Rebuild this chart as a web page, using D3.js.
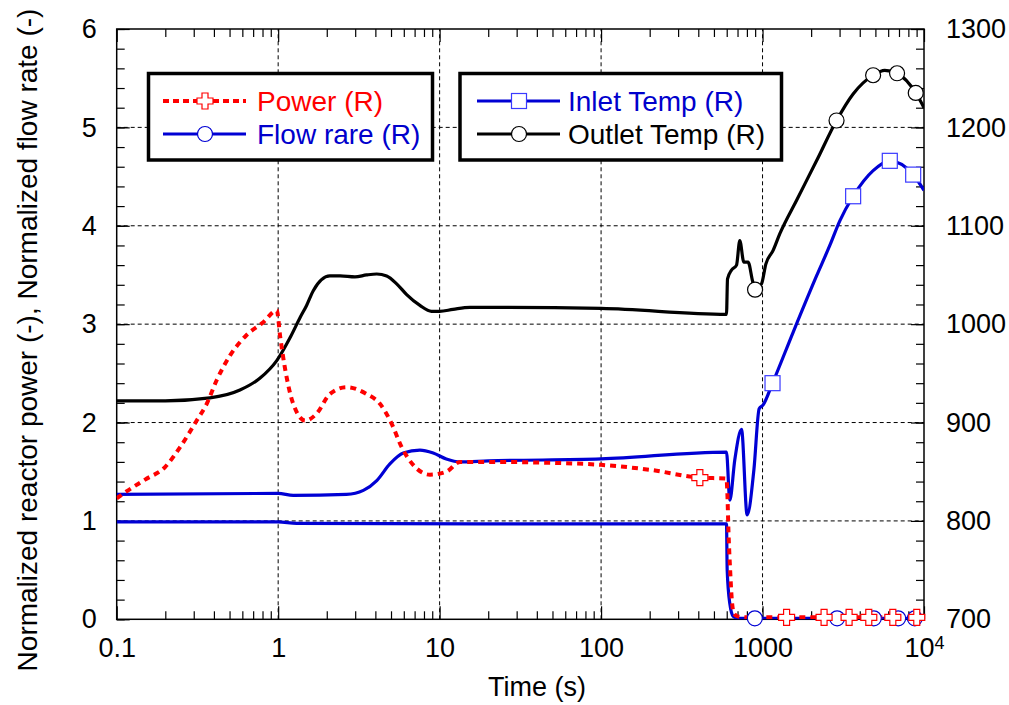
<!DOCTYPE html>
<html>
<head>
<meta charset="utf-8">
<script src="https://cdn.jsdelivr.net/npm/d3@7"></script>
<style>
  body { margin: 0; background: #fff; }
  svg { display: block; font-family: "Liberation Sans", Arial, Helvetica, sans-serif; }
</style>
</head>
<body>
<div id="chart"></div>
<script>
// time axis ticks
const timeTicks = [0.1, 1, 10, 100, 1000, 10000];
const timeTickLabels = ['0.1', '1', '10', '100', '1000', '10'];
const leftTicks = [0, 1, 2, 3, 4, 5, 6];
const rightTicks = [700, 800, 900, 1000, 1100, 1200, 1300];

// Power (left axis)
const powerTime = [0.1, 0.115, 0.15, 0.2, 0.247, 0.313, 0.361, 0.416, 0.503, 0.638, 0.809, 0.98,
  1.03, 1.1, 1.24, 1.47, 1.73, 2.09, 2.65, 3.53, 4.27, 5.04, 5.82, 7.03, 8.71, 11, 13.4, 20, 50,
  100, 200, 409, 598, 605, 615, 630, 645, 665, 700, 800, 10000];
const powerValue = [1.23, 1.30, 1.42, 1.55, 1.75, 2.02, 2.19, 2.43, 2.68, 2.89, 3.02, 3.14,
  2.87, 2.56, 2.19, 2.02, 2.09, 2.29, 2.36, 2.29, 2.19, 1.99, 1.75, 1.55, 1.47, 1.50, 1.60, 1.60, 1.59,
  1.57, 1.52, 1.44, 1.43, 1.30, 0.90, 0.50, 0.20, 0.06, 0.03, 0.02, 0.02];
const powerMarkTime = [409, 1409, 2405, 3436, 4550, 6410, 9020];
const powerMarkValue = [1.44, 0.02, 0.02, 0.02, 0.02, 0.02, 0.02];

// Flow rate (left axis)
const flowTime = [0.1, 1.0, 1.3, 100, 598, 604, 627, 658, 700, 800, 10000];
const flowValue = [0.99, 0.99, 0.975, 0.97, 0.97, 0.5, 0.16, 0.03, 0.01, 0.01, 0.01];
const flowMarkTime = [896, 2897, 4888, 6920, 8770];
const flowMarkValue = [0.01, 0.01, 0.01, 0.01, 0.01];

// Inlet temperature (right axis)
const inletTime = [0.1, 1.0, 1.24, 2.65, 3.37, 4.08, 4.92, 5.96, 7.55, 9.13, 11, 13.4, 20, 100,
  598, 627, 673, 741, 803, 884, 953, 1009, 1153, 1549, 2160, 2610, 3010, 3640, 4840, 6140, 8570, 10000];
const inletValue = [827, 828, 826, 827, 831, 841, 858, 869, 872, 869, 863, 860, 861, 863,
  870, 821, 862, 893, 806, 852, 914, 918, 940, 992, 1049, 1080, 1105, 1130, 1156, 1166, 1152, 1136];
const inletMarkTime = [1153, 3640, 6140, 8570];
const inletMarkValue = [940, 1130, 1166, 1152];

// Outlet temperature (right axis)
const outletTime = [0.1, 0.2, 0.378, 0.58, 0.77, 0.98, 1.2, 1.37, 1.5, 1.65, 2.09, 2.42, 2.99, 3.53,
  4.08, 4.7, 5.42, 6.25, 7.55, 8.91, 10, 12.1, 15.4, 23.6, 100, 598, 607, 643, 690, 723, 766, 814,
  867, 899, 986, 1048, 1163, 1280, 1626, 2160, 2873, 3640, 4840, 5710, 6810, 8890, 10000];
const outletValue = [922, 922, 925, 933, 945, 963, 988, 1007, 1019, 1034, 1049, 1049, 1048, 1050,
  1051, 1049, 1041, 1030, 1019, 1013, 1013, 1015, 1017, 1017, 1016, 1010, 1046, 1055, 1060, 1085, 1063, 1063,
  1044, 1035, 1041, 1061, 1075, 1092, 1126, 1166, 1207, 1234, 1253, 1258, 1255, 1235, 1220];
const outletMarkTime = [899, 2873, 4840, 6810, 8890];
const outletMarkValue = [1035, 1207, 1253, 1255, 1235];

const RED = '#ff0000';
const BLUE = '#0000d4';
const BLACK = '#000000';

const width = 1009, height = 705;
const margin = { top: 29, right: 85, bottom: 85.7, left: 116.7 };
const x0 = margin.left, x1 = width - margin.right;
const y0 = height - margin.bottom, y1 = margin.top;

const svg = d3.select('#chart').append('svg')
  .attr('width', width)
  .attr('height', height);

const x = d3.scaleLog().domain([0.1, 10000]).range([x0, x1]);
const yL = d3.scaleLinear().domain([0, 6]).range([y0, y1]);
const yR = d3.scaleLinear().domain([700, 1300]).range([y0, y1]);

const minorTime = [];
[0.1, 1, 10, 100, 1000].forEach(d => { for (let k = 2; k <= 9; k++) minorTime.push(d * k); });
const minorLeft = d3.range(0, 6.001, 0.2);
const minorRight = d3.range(700, 1300.1, 20);

// grid
const grid = svg.append('g')
  .attr('stroke', '#000')
  .attr('stroke-width', 1)
  .attr('stroke-dasharray', '4,3');
grid.selectAll('.gx').data(timeTicks.slice(1, -1)).enter().append('line')
  .attr('x1', d => x(d)).attr('x2', d => x(d))
  .attr('y1', y0).attr('y2', y1);
grid.selectAll('.gy').data(leftTicks.slice(1, -1)).enter().append('line')
  .attr('x1', x0).attr('x2', x1)
  .attr('y1', d => yL(d)).attr('y2', d => yL(d));

// axes (ticks point inwards)
function styleAxis(g) {
  g.select('.domain').remove();
  g.selectAll('line').attr('stroke', '#000').attr('stroke-width', 1.2);
  g.selectAll('text').attr('fill', '#000').style('font-size', '27px')
    .style('font-family', '"Liberation Sans", Arial, sans-serif');
}

svg.append('g').attr('transform', 'translate(0,' + y0 + ')')
  .call(d3.axisBottom(x).tickValues(minorTime).tickSize(-8).tickFormat(''))
  .call(styleAxis);
const bottomAxis = svg.append('g').attr('transform', 'translate(0,' + y0 + ')')
  .call(d3.axisBottom(x).tickValues(timeTicks).tickSize(-13).tickPadding(19)
    .tickFormat((d, i) => timeTickLabels[i]))
  .call(styleAxis);
// 10^4 superscript
bottomAxis.selectAll('.tick text').filter(d => d === 10000)
  .append('tspan').attr('dy', '-0.45em').style('font-size', '18px').text('4');

svg.append('g').attr('transform', 'translate(0,' + y1 + ')')
  .call(d3.axisTop(x).tickValues(minorTime).tickSize(-8).tickFormat(''))
  .call(styleAxis);
svg.append('g').attr('transform', 'translate(0,' + y1 + ')')
  .call(d3.axisTop(x).tickValues(timeTicks).tickSize(-13).tickFormat(''))
  .call(styleAxis);

svg.append('g').attr('transform', 'translate(' + x0 + ',0)')
  .call(d3.axisLeft(yL).tickValues(minorLeft).tickSize(-8).tickFormat(''))
  .call(styleAxis);
svg.append('g').attr('transform', 'translate(' + x0 + ',0)')
  .call(d3.axisLeft(yL).tickValues(leftTicks).tickSize(-13).tickPadding(20).tickFormat(d3.format('d')))
  .call(styleAxis);

svg.append('g').attr('transform', 'translate(' + x1 + ',0)')
  .call(d3.axisRight(yR).tickValues(minorRight).tickSize(-8).tickFormat(''))
  .call(styleAxis);
svg.append('g').attr('transform', 'translate(' + x1 + ',0)')
  .call(d3.axisRight(yR).tickValues(rightTicks).tickSize(-13).tickPadding(22).tickFormat(d3.format('d')))
  .call(styleAxis);

// frame
svg.append('rect')
  .attr('x', x0).attr('y', y1)
  .attr('width', x1 - x0).attr('height', y0 - y1)
  .attr('fill', 'none').attr('stroke', '#000').attr('stroke-width', 1.5);

// axis titles
svg.append('text')
  .attr('x', 537).attr('y', 696)
  .attr('text-anchor', 'middle')
  .style('font-size', '27px')
  .text('Time (s)');
svg.append('text')
  .attr('transform', 'translate(37,340) rotate(-90)')
  .attr('text-anchor', 'middle')
  .style('font-size', '28px')
  .text('Normalized reactor power (-), Normalized flow rate (-)');

// series
svg.append('clipPath').attr('id', 'plotclip')
  .append('rect').attr('x', x0).attr('y', y1).attr('width', x1 - x0).attr('height', y0 - y1);
const plot = svg.append('g').attr('clip-path', 'url(#plotclip)');

function drawLine(times, values, yScale, color, dash) {
  const line = d3.line().x(d => x(d[0])).y(d => yScale(d[1])).curve(d3.curveMonotoneX);
  plot.append('path')
    .datum(d3.zip(times, values))
    .attr('d', line)
    .attr('fill', 'none')
    .attr('stroke', color)
    .attr('stroke-width', dash ? 4 : 3.2)
    .attr('stroke-dasharray', dash || null)
    .attr('stroke-linejoin', 'round');
}

function crossPath(s, a) {
  return 'M' + (-a) + ',' + (-s) + 'H' + a + 'V' + (-a) + 'H' + s + 'V' + a + 'H' + a + 'V' + s +
    'H' + (-a) + 'V' + a + 'H' + (-s) + 'V' + (-a) + 'H' + (-a) + 'Z';
}

function drawMarker(g, type, cx, cy, color) {
  if (type === 'circle') {
    g.append('circle').attr('cx', cx).attr('cy', cy).attr('r', 7.5)
      .attr('fill', '#fff').attr('stroke', color).attr('stroke-width', 1.2);
  } else if (type === 'square') {
    g.append('rect').attr('x', cx - 7.5).attr('y', cy - 7.5).attr('width', 15).attr('height', 15)
      .attr('fill', '#fff').attr('stroke', color).attr('stroke-width', 1.2);
  } else {
    g.append('path').attr('d', crossPath(8, 3)).attr('transform', 'translate(' + cx + ',' + cy + ')')
      .attr('fill', '#fff').attr('stroke', color).attr('stroke-width', 1.2);
  }
}

function drawMarkers(times, values, yScale, type, color) {
  const g = svg.append('g');
  d3.zip(times, values).forEach(d => drawMarker(g, type, x(d[0]), yScale(d[1]), color));
}

drawLine(outletTime, outletValue, yR, BLACK);
drawLine(inletTime, inletValue, yR, BLUE);
drawLine(flowTime, flowValue, yL, BLUE);
drawLine(powerTime, powerValue, yL, RED, '6,5');

drawMarkers(outletMarkTime, outletMarkValue, yR, 'circle', BLACK);
drawMarkers(inletMarkTime, inletMarkValue, yR, 'square', '#3a3aff');
drawMarkers(flowMarkTime, flowMarkValue, yL, 'circle', BLUE);
drawMarkers(powerMarkTime, powerMarkValue, yL, 'cross', RED);

// legends
const legendRows = [
  { box: 0, row: 0, name: 'Power (R)', color: RED, marker: 'cross', dash: '6,4', mcolor: RED },
  { box: 0, row: 1, name: 'Flow rare (R)', color: BLUE, marker: 'circle', dash: null, mcolor: BLUE },
  { box: 1, row: 0, name: 'Inlet Temp (R)', color: BLUE, marker: 'square', dash: null, mcolor: '#3a3aff' },
  { box: 1, row: 1, name: 'Outlet Temp (R)', color: BLACK, marker: 'circle', dash: null, mcolor: BLACK }
];
const boxes = [
  { x: 148.5, w: 284, lineX: 163, textX: 257 },
  { x: 460, w: 321.5, lineX: 477, textX: 568 }
];
boxes.forEach(b => {
  svg.append('rect')
    .attr('x', b.x).attr('y', 73.5)
    .attr('width', b.w).attr('height', 86.5)
    .attr('fill', '#fff').attr('stroke', '#000').attr('stroke-width', 3.5);
});
legendRows.forEach(r => {
  const b = boxes[r.box];
  const ly = 101 + r.row * 33;
  const g = svg.append('g');
  g.append('line')
    .attr('x1', b.lineX).attr('x2', b.lineX + 83)
    .attr('y1', ly).attr('y2', ly)
    .attr('stroke', r.color)
    .attr('stroke-width', r.dash ? 4 : 3)
    .attr('stroke-dasharray', r.dash);
  drawMarker(g, r.marker, b.lineX + 42, ly, r.mcolor);
  g.append('text')
    .attr('x', b.textX).attr('y', ly + 9.5)
    .attr('fill', r.color === BLUE ? '#0000cc' : r.color)
    .style('font-size', '28px')
    .text(r.name);
});
</script>
</body>
</html>
